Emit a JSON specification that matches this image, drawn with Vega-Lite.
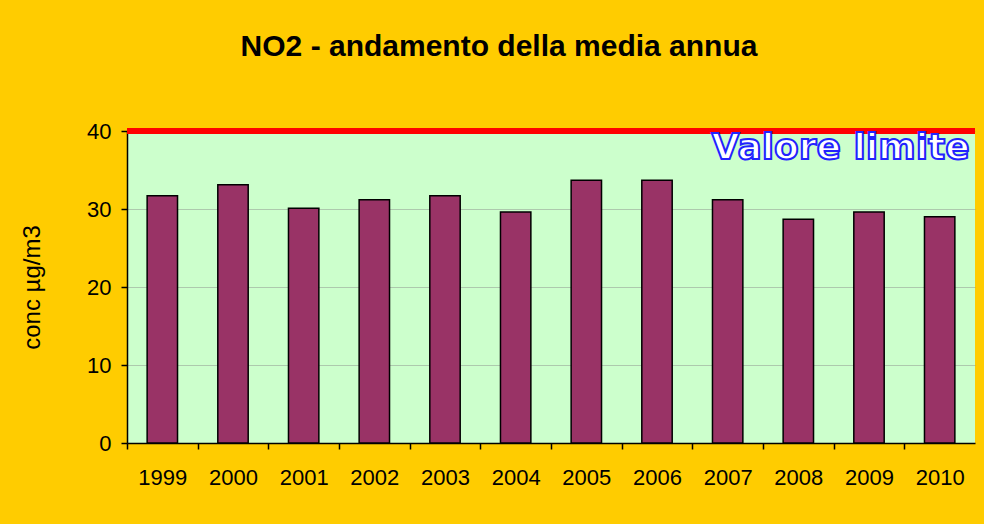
{
  "$schema": "https://vega.github.io/schema/vega-lite/v6.json",
  "width": 848,
  "height": 312,
  "autosize": {"type": "none"},
  "padding": {"left": 127, "top": 131, "right": 9, "bottom": 81},
  "background": "#FFCC00",
  "title": {
    "text": "NO2 - andamento della media annua",
    "font": "Liberation Sans",
    "fontSize": 30,
    "fontWeight": "bold",
    "color": "#000000",
    "anchor": "middle",
    "frame": "bounds",
    "offset": 58
  },
  "config": {
    "view": {"fill": "#CCFFCC", "stroke": null},
    "font": "Liberation Sans"
  },
  "data": {
    "values": [
      {"year": "1999", "conc": 31.7},
      {"year": "2000", "conc": 33.1},
      {"year": "2001", "conc": 30.1},
      {"year": "2002", "conc": 31.2},
      {"year": "2003", "conc": 31.7},
      {"year": "2004", "conc": 29.6},
      {"year": "2005", "conc": 33.7},
      {"year": "2006", "conc": 33.7},
      {"year": "2007", "conc": 31.2},
      {"year": "2008", "conc": 28.7},
      {"year": "2009", "conc": 29.6},
      {"year": "2010", "conc": 29.0}
    ]
  },
  "layer": [
    {
      "mark": {"type": "bar", "fill": "#993366", "stroke": "#000000", "strokeWidth": 1.5},
      "encoding": {
        "x": {
          "field": "year",
          "type": "ordinal",
          "scale": {"paddingInner": 0.57, "paddingOuter": 0.285},
          "axis": {
            "title": null,
            "labelAngle": 0,
            "labelFontSize": 22,
            "labelColor": "#000000",
            "labelPadding": 18,
            "labelOffset": 35.33,
            "ticks": true,
            "tickOffset": -35.33,
            "tickSize": 6,
            "tickWidth": 1.5,
            "tickColor": "#000000",
            "domainColor": "#000000",
            "domainWidth": 1.5
          }
        },
        "y": {
          "field": "conc",
          "type": "quantitative",
          "scale": {"domain": [0, 40]},
          "axis": {
            "title": "conc µg/m3",
            "titleFontSize": 24,
            "titleFontWeight": "normal",
            "titleColor": "#000000",
            "titlePadding": 42,
            "values": [0, 10, 20, 30, 40],
            "labelFontSize": 22,
            "labelColor": "#000000",
            "labelPadding": 10,
            "tickSize": 6,
            "tickWidth": 1.5,
            "tickColor": "#000000",
            "domainColor": "#000000",
            "domainWidth": 1.5,
            "grid": true,
            "gridColor": "#888888",
            "gridOpacity": 0.45
          }
        }
      }
    },
    {
      "mark": {"type": "rule", "color": "#FF0000", "strokeWidth": 5},
      "encoding": {"y": {"datum": 40}}
    },
    {
      "data": {"values": [{"year": "2010", "label": "Valore limite", "y": 40}]},
      "mark": {
        "type": "text",
        "font": "DejaVu Sans",
        "fontWeight": "bold",
        "fontSize": 36,
        "fill": "#FFFFFF",
        "stroke": "#2222FF",
        "strokeWidth": 2,
        "align": "right",
        "baseline": "top",
        "dx": 30,
        "dy": 0
      },
      "encoding": {
        "x": {"field": "year", "type": "ordinal"},
        "y": {"field": "y", "type": "quantitative"},
        "text": {"field": "label"}
      }
    }
  ]
}
